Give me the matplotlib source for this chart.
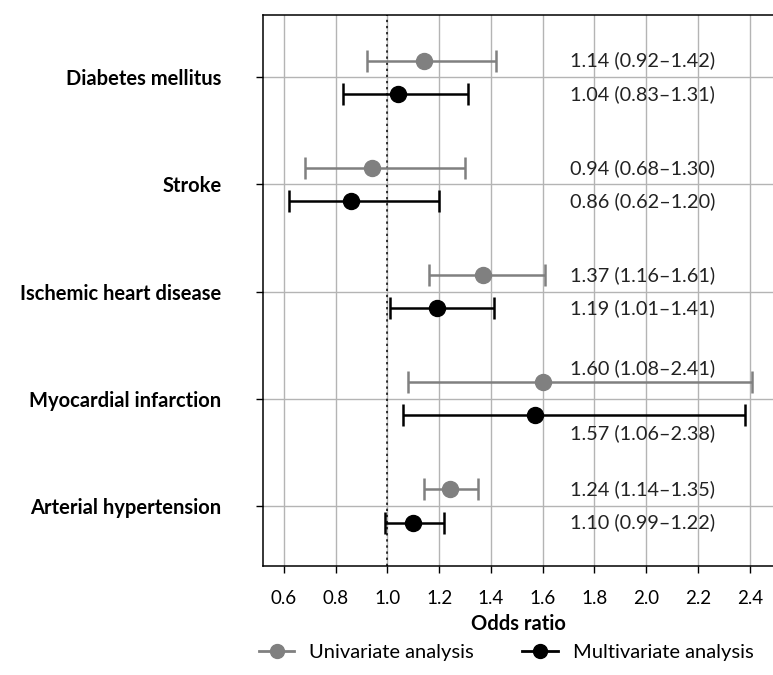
import matplotlib
matplotlib.use("Agg")
import matplotlib.pyplot as plt
from matplotlib.lines import Line2D

plt.rcParams['font.family'] = ['Lato', 'DejaVu Sans']

categories = ['Diabetes mellitus', 'Stroke', 'Ischemic heart disease',
              'Myocardial infarction', 'Arterial hypertension']

# univariate odds ratios with 95% CI
uni_or = [1.14, 0.94, 1.37, 1.60, 1.24]
uni_lo = [0.92, 0.68, 1.16, 1.08, 1.14]
uni_hi = [1.42, 1.30, 1.61, 2.41, 1.35]

# multivariate odds ratios with 95% CI
multi_or = [1.04, 0.86, 1.19, 1.57, 1.10]
multi_lo = [0.83, 0.62, 1.01, 1.06, 0.99]
multi_hi = [1.31, 1.20, 1.41, 2.38, 1.22]

x_ticks = [0.6, 0.8, 1.0, 1.2, 1.4, 1.6, 1.8, 2.0, 2.2, 2.4]

grey = '#808080'
off = 0.155

fig = plt.figure(figsize=(7.73, 6.75), dpi=100)
ax = fig.add_axes([0.3406, 0.1615, 0.6594, 0.8163])

ypos = list(range(len(categories)))

# grid + reference line
ax.set_axisbelow(True)
ax.grid(True, color='#b4b4b4', linewidth=1.0)
ax.axvline(1.0, color='black', linestyle=(0, (1.5, 2.5)), linewidth=1.1, zorder=2)

for i in ypos:
    # univariate
    ax.errorbar(uni_or[i], i - off,
                xerr=[[uni_or[i] - uni_lo[i]], [uni_hi[i] - uni_or[i]]],
                fmt='o', color=grey, ms=11.5, elinewidth=1.8, capsize=8, capthick=1.8, zorder=3)
    # multivariate
    ax.errorbar(multi_or[i], i + off,
                xerr=[[multi_or[i] - multi_lo[i]], [multi_hi[i] - multi_or[i]]],
                fmt='o', color='black', ms=11.5, elinewidth=1.8, capsize=8, capthick=1.8, zorder=4)

    # text labels, pushed off the bar for myocardial infarction
    dy_u, dy_m = (-0.13, 0.17) if categories[i] == 'Myocardial infarction' else (0, 0)
    ax.text(1.706, i - off + dy_u,
            f'{uni_or[i]:.2f} ({uni_lo[i]:.2f}\u2013{uni_hi[i]:.2f})',
            va='center', ha='left', fontsize=14.3, color='#222222')
    ax.text(1.706, i + off + dy_m,
            f'{multi_or[i]:.2f} ({multi_lo[i]:.2f}\u2013{multi_hi[i]:.2f})',
            va='center', ha='left', fontsize=14.3, color='#222222')

ax.set_yticks(ypos)
ax.set_yticklabels(categories, fontsize=14.5, fontweight='bold')
ax.set_ylim(len(categories) - 1 + 0.56, -0.58)
ax.set_xticks(x_ticks)
ax.set_xticklabels([f'{t:.1f}' for t in x_ticks], fontsize=13.5)
ax.set_xlim(0.520, 2.49)
ax.set_xlabel('Odds ratio', fontsize=14.5, fontweight='bold', labelpad=5)

ax.tick_params(axis='both', length=5, width=1, color='black')
ax.tick_params(axis='y', pad=25)
ax.tick_params(axis='x', pad=12)
ax.spines['right'].set_visible(False)
for s in ['left', 'top', 'bottom']:
    ax.spines[s].set_linewidth(1.1)

handles = [Line2D([0], [0], color=grey, marker='o', ms=10, lw=2),
           Line2D([0], [0], color='black', marker='o', ms=10, lw=2)]
fig.legend(handles, ['Univariate analysis', 'Multivariate analysis'],
           loc='center', bbox_to_anchor=(0.655, 0.033), ncol=2, frameon=False,
           fontsize=14.5, handlelength=1.75, columnspacing=2.4, handletextpad=0.75)

fig.savefig('out.png', dpi=100)
